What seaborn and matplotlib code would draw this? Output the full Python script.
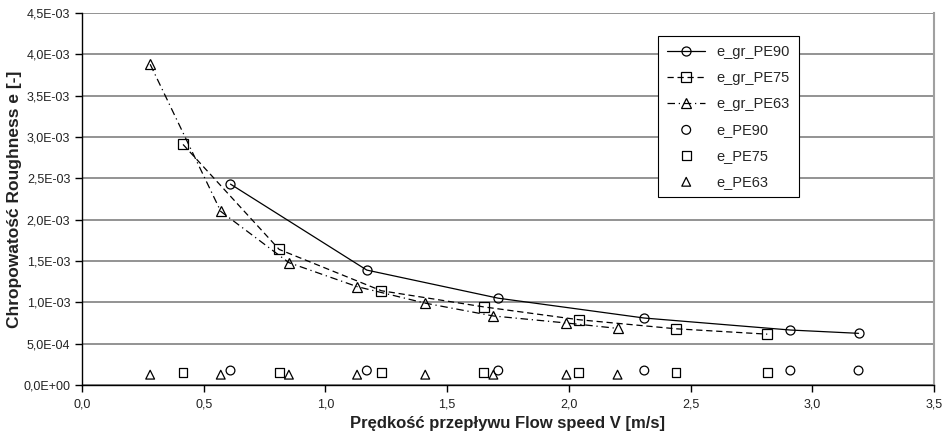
import pandas as pd
import seaborn as sns
import matplotlib.pyplot as plt
from matplotlib.ticker import FuncFormatter, MultipleLocator

# ============================================
# DATA
# ============================================

v_pe90 = [0.61, 1.17, 1.71, 2.31, 2.91, 3.19]
e_gr_pe90 = [2.43e-3, 1.39e-3, 1.05e-3, 0.81e-3, 0.665e-3, 0.625e-3]
e_pe90 = [1.75e-4, 1.75e-4, 1.75e-4, 1.75e-4, 1.75e-4, 1.75e-4]

v_pe75 = [0.415, 0.81, 1.23, 1.65, 2.04, 2.44, 2.815]
e_gr_pe75 = [2.91e-3, 1.64e-3, 1.14e-3, 0.945e-3, 0.79e-3, 0.68e-3, 0.615e-3]
e_pe75 = [1.55e-4, 1.55e-4, 1.55e-4, 1.55e-4, 1.55e-4, 1.55e-4, 1.55e-4]

v_pe63 = [0.28, 0.57, 0.85, 1.13, 1.41, 1.69, 1.99, 2.20]
e_gr_pe63 = [3.88e-3, 2.10e-3, 1.48e-3, 1.19e-3, 0.99e-3, 0.835e-3, 0.75e-3, 0.685e-3]
e_pe63 = [1.25e-4, 1.25e-4, 1.25e-4, 1.25e-4, 1.25e-4, 1.25e-4, 1.25e-4, 1.25e-4]

# ============================================
# STYLE
# ============================================

sns.set_style("white")
plt.rcParams["font.family"] = ["Liberation Sans", "DejaVu Sans"]

fig = plt.figure(figsize=(9.45, 4.37), dpi=100)
ax = fig.add_axes([82 / 945, 1 - 385 / 437, 852 / 945, 372 / 437])

mk = dict(markersize=6.5, markerfacecolor="none", markeredgecolor="black",
          markeredgewidth=0.9)

# ============================================
# CURVES
# ============================================

series = [
    ("e_gr_PE90", v_pe90, e_gr_pe90, "o", "-"),
    ("e_gr_PE75", v_pe75, e_gr_pe75, "s", (0, (5, 3))),
    ("e_gr_PE63", v_pe63, e_gr_pe63, "^", (0, (6, 3, 1, 3))),
]
for name, x, y, m, ls in series:
    df = pd.DataFrame({"V": x, "e": y})
    sns.lineplot(data=df, x="V", y="e", ax=ax, color="black", linewidth=0.9,
                 linestyle=ls, marker=m, label=name, sort=False, **mk)

points = [
    ("e_PE90", v_pe90, e_pe90, "o"),
    ("e_PE75", v_pe75, e_pe75, "s"),
    ("e_PE63", v_pe63, e_pe63, "^"),
]
for name, x, y, m in points:
    df = pd.DataFrame({"V": x, "e": y})
    sns.scatterplot(data=df, x="V", y="e", ax=ax, marker=m, s=40,
                    facecolor="none", edgecolor="black", linewidth=0.9,
                    label=name)

# ============================================
# AXES
# ============================================

ax.set_xlim(0, 3.5)
ax.set_ylim(0, 4.5e-3)
ax.xaxis.set_major_locator(MultipleLocator(0.5))
ax.yaxis.set_major_locator(MultipleLocator(0.5e-3))
ax.xaxis.set_major_formatter(FuncFormatter(lambda v, p: f"{v:.1f}".replace(".", ",")))
ax.yaxis.set_major_formatter(FuncFormatter(lambda v, p: f"{v:.1E}".replace(".", ",")))

ax.yaxis.grid(True, color="#808080", linewidth=1.2)
ax.xaxis.grid(False)
ax.set_axisbelow(True)

for s in ["left", "bottom"]:
    ax.spines[s].set_color("black")
    ax.spines[s].set_linewidth(1.0)
ax.spines["top"].set_visible(False)
ax.spines["right"].set_color("#a0a0a0")
ax.spines["right"].set_linewidth(1.5)

ax.tick_params(axis="both", direction="out", length=5, width=1, color="black",
               labelsize=9, labelcolor="#222222", bottom=True, left=True)
ax.tick_params(axis="x", pad=5)

ax.set_xlabel("Prędkość przepływu Flow speed V [m/s]", fontsize=12,
              fontweight="bold", color="#222222", labelpad=4)
ax.set_ylabel("Chropowatość Roughness e [-]", fontsize=12.5,
              fontweight="bold", color="#222222", labelpad=1)

handles, labels = ax.get_legend_handles_labels()
leg = ax.legend(handles, labels, loc="upper right",
                bbox_to_anchor=(0.8415, 0.938), borderaxespad=0,
                fontsize=10.5, frameon=True,
                fancybox=False, edgecolor="black", framealpha=1,
                labelspacing=0.82, handlelength=2.6, borderpad=0.6)
leg.get_frame().set_linewidth(0.8)

plt.savefig("out.png", dpi=100)
